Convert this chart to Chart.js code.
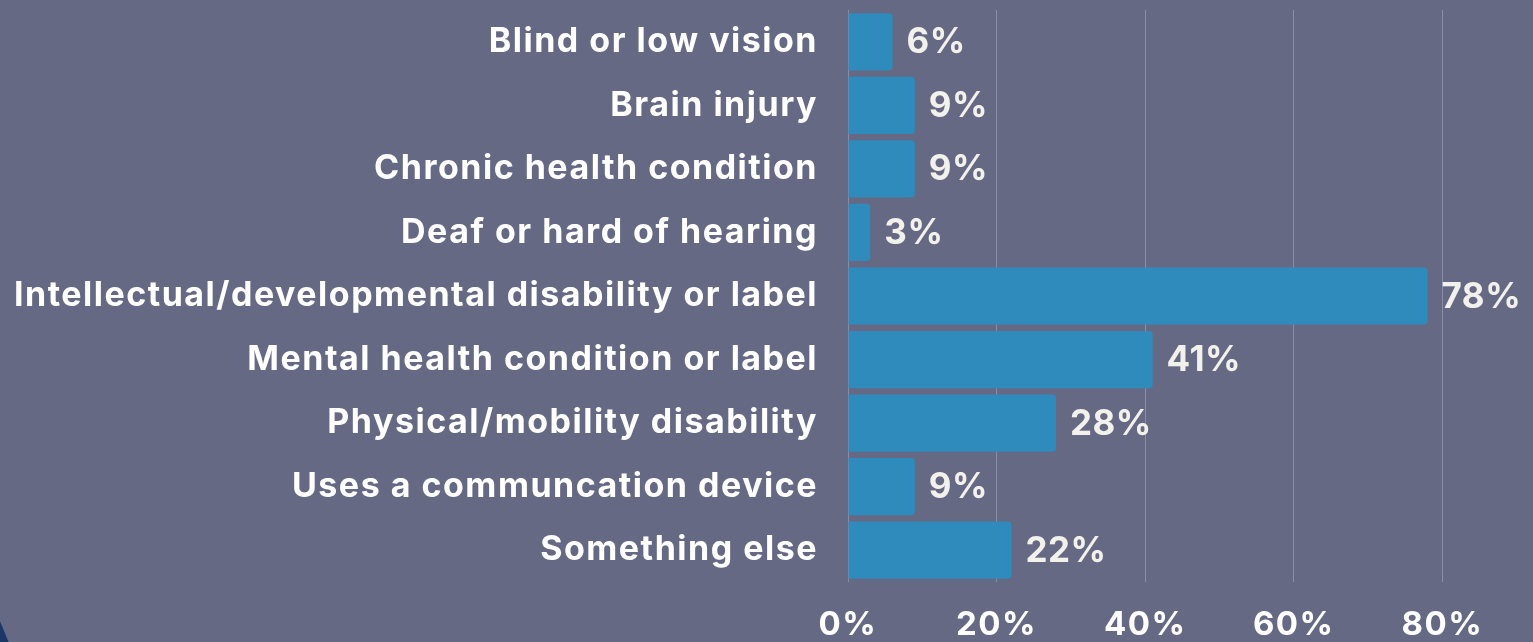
<!DOCTYPE html>
<html>
<head>
<meta charset="utf-8">
<script src="https://cdn.jsdelivr.net/npm/chart.js@4"></script>
<style>
  html, body { margin: 0; padding: 0; background: #666984; overflow: hidden; }
  #wrap { position: relative; width: 1533px; height: 642px; }
  #corner { position: absolute; left: -838px; top: 362px; width: 876px; height: 876px;
            border-radius: 50%; background: #1c3766; }
  canvas { position: relative; }
</style>
</head>
<body>
<div id="wrap">
  <div id="corner"></div>
  <canvas id="myBarChart" width="1533" height="642"></canvas>
</div>
<script>
// categories shown on the y-axis
const categories = [
    'Blind or low vision',
    'Brain injury',
    'Chronic health condition',
    'Deaf or hard of hearing',
    'Intellectual/developmental disability or label',
    'Mental health condition or label',
    'Physical/mobility disability',
    'Uses a communcation device',
    'Something else'
];

// share of respondents in percent
const percentages = [6, 9, 9, 3, 78, 41, 28, 9, 22];

// tick values on the x-axis
const xTicks = [0, 20, 40, 60, 80];

const fontName = "Inter, 'DejaVu Sans', sans-serif";

// wider text, closer to the original typeface
function setSpacing (chart) { chart.ctx.letterSpacing = '1.5px'; }

const textSpacing = {
    id: 'textSpacing',
    beforeLayout (chart) { setSpacing(chart); },
    beforeDraw (chart) { setSpacing(chart); }
};

// draw value labels right of each bar
const valueLabels = {
    id: 'valueLabels',
    afterDatasetsDraw (chart) {
        const ctx = chart.ctx;
        const meta = chart.getDatasetMeta(0);
        ctx.save();
        ctx.letterSpacing = '0.5px';
        ctx.fillStyle = '#f3f1ec';
        ctx.font = "700 35px " + fontName;
        ctx.textAlign = 'left';
        ctx.textBaseline = 'middle';
        meta.data.forEach((bar, i) => {
            ctx.fillText(percentages[i] + '%', bar.x + 14, bar.y + 1);
        });
        ctx.restore();
    }
};

const barChart = new Chart("myBarChart", {
    type: 'bar',
    data: {
        labels: categories,
        datasets: [{
            data: percentages,
            backgroundColor: '#2e8bbc',
            borderRadius: 4,
            borderSkipped: 'start',
            barPercentage: 0.9,
            categoryPercentage: 1.0
        }]
    },
    options: {
        indexAxis: 'y',
        responsive: false,
        animation: false,
        layout: { padding: { top: 10, right: 0, bottom: 0, left: 0 } },
        plugins: {
            legend: { display: false },
            tooltip: { enabled: false }
        },
        scales: {
            x: {
                min: 0,
                max: 92.2,
                afterBuildTicks: (axis) => { axis.ticks = xTicks.map(v => ({ value: v })); },
                afterFit: (scale) => {
                    scale.height = 60;
                    scale.paddingLeft = 0;
                    scale.paddingRight = 0;
                },
                grid: { color: '#8a8ca8', lineWidth: 1, drawTicks: false },
                border: { display: false },
                ticks: {
                    color: '#ffffff',
                    padding: 23,
                    maxRotation: 0,
                    font: { family: fontName, size: 33, weight: '700' },
                    callback: (v) => v + '%'
                }
            },
            y: {
                afterFit: (scale) => {
                    scale.width = 848;
                    scale.paddingTop = 0;
                    scale.paddingBottom = 0;
                },
                grid: { display: false, drawTicks: false },
                border: { display: false },
                ticks: {
                    color: '#ffffff',
                    padding: 30,
                    font: { family: fontName, size: 34, weight: '700' }
                }
            }
        }
    },
    plugins: [textSpacing, valueLabels]
});
</script>
</body>
</html>
